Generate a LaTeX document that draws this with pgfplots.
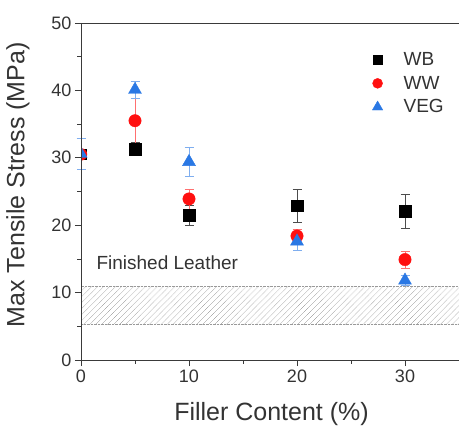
\documentclass[border=0pt]{standalone}
\usepackage{fontspec}
\setmainfont{Liberation Sans}
\usepackage{pgfplots}
\usepackage{pgfplotstable}
\pgfplotsset{compat=1.18}
\usetikzlibrary{patterns.meta}
\definecolor{txt}{HTML}{333333}
\definecolor{vblue}{HTML}{2A78E4}
\definecolor{wred}{HTML}{FF1010}
\definecolor{axc}{HTML}{3A3A3A}

% right halves of the marks, for the points that sit on the y axis
\pgfdeclareplotmark{hsquare}{\pgfpathrectangle{\pgfpoint{0pt}{-\pgfplotmarksize}}{\pgfpoint{\pgfplotmarksize}{2\pgfplotmarksize}}\pgfusepathqfill}
\pgfdeclareplotmark{hcircle}{\pgfpathmoveto{\pgfpoint{0pt}{\pgfplotmarksize}}\pgfpatharc{90}{-90}{\pgfplotmarksize}\pgfpathclose\pgfusepathqfill}
\pgfdeclareplotmark{htriangle}{\pgfpathmoveto{\pgfpoint{0pt}{\pgfplotmarksize}}\pgfpathlineto{\pgfpoint{0.866\pgfplotmarksize}{-0.5\pgfplotmarksize}}\pgfpathlineto{\pgfpoint{0pt}{-0.5\pgfplotmarksize}}\pgfpathclose\pgfusepathqfill}

\pgfplotstableread{
x y e
5 31.3 1.0
10 21.5 1.5
20 22.9 2.5
30 22.1 2.5
}\wb
\pgfplotstableread{
x y e
5 35.5 3.3
10 23.9 1.5
20 18.4 1.0
30 14.9 1.3
}\ww
\pgfplotstableread{
x y e
5 40.1 1.3
10 29.4 2.2
20 17.6 1.3
30 11.8 0.7
}\veg

\begin{document}
\begin{tikzpicture}
\begin{axis}[
  name=ax,
  scale only axis,
  width=378pt, height=337pt,
  xmin=0, xmax=35, ymin=0, ymax=50,
  axis x line*=bottom, axis y line*=left,
  axis line style={axc, line width=0.9pt},
  xtick={0,10,20,30}, ytick={0,10,20,30,40,50},
  minor x tick num=1, minor y tick num=1,
  tick align=outside,
  major tick length=6pt, minor tick length=3.5pt,
  tick style={axc, line width=0.8pt},
  /pgf/number format/assume math mode=true,
  tick label style={font=\fontsize{18}{20}\selectfont, text=txt},
  every axis x label/.style={at={(axis description cs:0.504,0)}, yshift=-54pt, anchor=center},
  every axis y label/.style={at={(axis description cs:0,0.52)}, xshift=-63pt, rotate=90, anchor=center},
  label style={font=\fontsize{25}{28}\selectfont, text=txt},
  xlabel={Filler Content (\%)},
  ylabel={Max Tensile Stress (MPa)},
  legend image code/.code={\pgfpathrectangle{\pgfpoint{0pt}{-5pt}}{\pgfpoint{32pt}{10pt}}\pgfusepath{use as bounding box}\draw[#1] plot coordinates {(8pt,0pt)};},
  legend style={draw=none, fill=none, at={(0.755,0.925)}, anchor=north west,
    font=\fontsize{19}{20}\selectfont, text=txt, row sep=5pt,
    legend cell align=left},
  clip=false,
]
\addplot[draw=gray!80, densely dotted, pattern={Lines[angle=45, distance=4.2pt, line width=0.7pt]}, pattern color=gray!85, forget plot]
  coordinates {(0,5.3) (35,5.3) (35,10.9) (0,10.9) (0,5.3)};

% points at 0 % filler (on the axis, right halves visible)
\addplot[only marks, mark=hsquare, mark size=5.7pt, black, forget plot]
  coordinates {(0,30.5)};
\addplot[only marks, mark=hcircle, mark size=6.2pt, wred, forget plot]
  coordinates {(0,30.5)};
\addplot[only marks, mark=htriangle, mark size=7.5pt, vblue, forget plot,
  error bars/.cd, y dir=both, y explicit,
  error bar style={vblue!60, line width=0.6pt},
  error mark options={vblue!60, rotate=90, mark size=4.5pt, line width=0.6pt}]
  coordinates {(0,30.6) +- (0,2.3)};

\addplot[only marks, mark=square*, mark size=5.7pt, black,
  legend image post style={mark size=4.2pt},
  error bars/.cd, y dir=both, y explicit,
  error bar style={black!70, line width=0.6pt},
  error mark options={black!70, rotate=90, mark size=4.5pt, line width=0.6pt}]
  table[x=x, y=y, y error=e] {\wb};
\addlegendentry{WB}
\addplot[only marks, mark=*, mark size=6.2pt, wred,
  legend image post style={mark size=5pt},
  error bars/.cd, y dir=both, y explicit,
  error bar style={wred!60, line width=0.6pt},
  error mark options={wred!60, rotate=90, mark size=4.5pt, line width=0.6pt}]
  table[x=x, y=y, y error=e] {\ww};
\addlegendentry{WW}
\addplot[only marks, mark=triangle*, mark size=7.5pt, vblue,
  legend image post style={mark size=6pt},
  error bars/.cd, y dir=both, y explicit,
  error bar style={vblue!60, line width=0.6pt},
  error mark options={vblue!60, rotate=90, mark size=4.5pt, line width=0.6pt}]
  table[x=x, y=y, y error=e] {\veg};
\addlegendentry{VEG}
\end{axis}
\node[anchor=west, text=txt, font=\fontsize{19}{22}\selectfont] at ([xshift=12pt,yshift=97pt]ax.south west) {Finished Leather};
\draw[axc, line width=0.9pt] (ax.north west) -- (ax.north east);
\draw[axc, line width=0.9pt] (ax.north west) -- (ax.south west);
\pgfresetboundingbox
\path ([xshift=-81pt,yshift=-66pt]ax.south west) rectangle ([yshift=23pt]ax.north east);
\end{tikzpicture}
\end{document}
